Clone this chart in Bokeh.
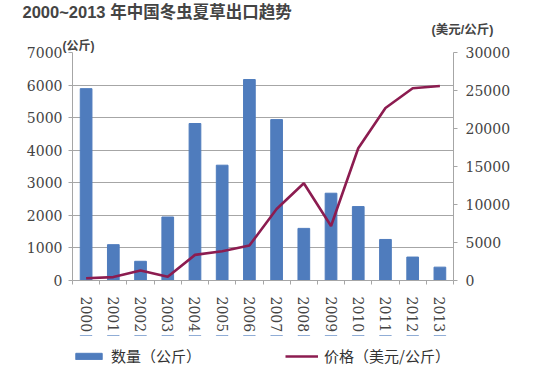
from bokeh.plotting import figure
from bokeh.layouts import column
from bokeh.models import (Range1d, LinearAxis, FixedTicker, Title, Legend, LegendItem,
                          SingleIntervalTicker)
from bokeh.embed import file_html
from bokeh.resources import INLINE

# ---- data ----
years = ["2000", "2001", "2002", "2003", "2004", "2005", "2006",
         "2007", "2008", "2009", "2010", "2011", "2012", "2013"]
quantity_kg = [5890, 1100, 590, 1950, 4820, 3540, 6170,
               4940, 1600, 2680, 2270, 1260, 720, 410]
price_usd_per_kg = [300, 450, 1320, 490, 3370, 3850, 4600,
                    9400, 12800, 7170, 17400, 22700, 25300, 25600]

title_text = "2000~2013 年中国冬虫夏草出口趋势"
left_unit = "(公斤)"
right_unit = "(美元/公斤)"
legend_qty = "数量（公斤）"
legend_price = "价格（美元/公斤）"

BAR_COLOR = "#4f7cbd"
LINE_COLOR = "#8c1c50"
AXIS_GREY = "#a6a6a6"
TICK_FONT = "DejaVu Serif"
CJK = "Noto Sans CJK SC"
HEAD_FONT = "Liberation Sans, Noto Sans CJK SC"

n = len(years)
xc = [i + 0.5 for i in range(n)]

W = 541
H_MAIN, H_FOOT = 335, 39
BL, BR, BT, BB = 72, 88, 51, 55

p = figure(width=W, height=H_MAIN, output_backend="svg", toolbar_location=None,
           x_range=Range1d(0, n), y_range=Range1d(0, 7000),
           min_border_left=BL, min_border_right=BR, min_border_top=BT,
           min_border_bottom=BB, x_axis_location=None, y_axis_location=None,
           title=title_text)
p.outline_line_color = None
p.background_fill_color = "white"
p.border_fill_color = "white"
p.extra_y_ranges = {"price": Range1d(0, 30000)}

# titles: p.title is outermost; added titles stack outward from the frame
p.title.text_font = HEAD_FONT
p.title.text_font_style = "bold"
p.title.text_font_size = "16.5px"
p.title.align = "left"
p.title.offset = -50
p.title.standoff = 0
p.add_layout(Title(text=left_unit, text_font=HEAD_FONT, text_font_style="bold",
                   text_font_size="12px", align="left", offset=-10,
                   standoff=0), "above")
p.add_layout(Title(text=right_unit, text_font=HEAD_FONT, text_font_style="bold",
                   text_font_size="12.5px", align="left", offset=359,
                   standoff=0), "above")

# grid
p.xgrid.visible = False
p.ygrid.grid_line_color = AXIS_GREY
p.ygrid.grid_line_width = 1
p.ygrid.ticker = SingleIntervalTicker(interval=1000)

# left axis
ly = LinearAxis(ticker=SingleIntervalTicker(interval=1000))
ly.axis_line_color = AXIS_GREY
ly.major_tick_line_color = AXIS_GREY
ly.major_tick_out = 4
ly.major_tick_in = 0
ly.minor_tick_line_color = None
ly.major_label_text_font = TICK_FONT
ly.major_label_text_font_size = "14px"
ly.major_label_text_color = "#444444"
ly.major_label_standoff = 6
p.add_layout(ly, "left")

# right axis
ry = LinearAxis(y_range_name="price", ticker=SingleIntervalTicker(interval=5000))
ry.axis_line_color = AXIS_GREY
ry.major_tick_line_color = AXIS_GREY
ry.major_tick_out = 4
ry.major_tick_in = 0
ry.minor_tick_line_color = None
ry.major_label_text_font = TICK_FONT
ry.major_label_text_font_size = "14px"
ry.major_label_text_color = "#444444"
ry.major_label_standoff = 8
p.add_layout(ry, "right")

# bottom axis: labels at category centres, short ticks at category boundaries
bx = LinearAxis(ticker=FixedTicker(ticks=xc, minor_ticks=list(range(n + 1))))
bx.major_label_overrides = {xc[i]: years[i] for i in range(n)}
bx.axis_line_color = AXIS_GREY
bx.major_tick_line_color = None
bx.minor_tick_line_color = AXIS_GREY
bx.minor_tick_out = 4
bx.minor_tick_in = 0
bx.major_label_orientation = "vertical"
bx.major_label_text_font = TICK_FONT
bx.major_label_text_font_size = "14px"
bx.major_label_text_color = "#444444"
bx.major_label_standoff = 10
p.add_layout(bx, "below")

p.vbar(x=xc, top=quantity_kg, width=0.43, fill_color=BAR_COLOR,
       line_color=BAR_COLOR)
p.line(x=xc, y=price_usd_per_kg, y_range_name="price",
       line_color=LINE_COLOR, line_width=2.6)

# footer figure holding the legend; its series lie outside its (negative) y range
f = figure(width=W, height=H_FOOT, output_backend="svg", toolbar_location=None,
           x_range=Range1d(0, n), y_range=Range1d(-40, -1),
           min_border=0, x_axis_location=None, y_axis_location=None)
f.outline_line_color = None
f.xgrid.visible = False
f.ygrid.visible = False
f.border_fill_color = "white"
lg_bar = f.vbar(x=xc, top=quantity_kg, width=0.43, fill_color=BAR_COLOR,
                line_color=BAR_COLOR)
lg_line = f.line(x=xc, y=price_usd_per_kg, line_color=LINE_COLOR, line_width=2.6)

legend = Legend(items=[LegendItem(label=legend_qty, renderers=[lg_bar]),
                       LegendItem(label=legend_price, renderers=[lg_line])],
                orientation="horizontal", location=(0, 8),
                glyph_width=33, glyph_height=8, spacing=84,
                label_text_font=CJK, label_text_font_size="15px",
                label_text_color="#333333", label_standoff=6,
                padding=0, margin=0, border_line_color=None,
                background_fill_alpha=0)
f.add_layout(legend, "center")

open("out.html", "w").write(file_html(column(p, f, spacing=0), INLINE))
